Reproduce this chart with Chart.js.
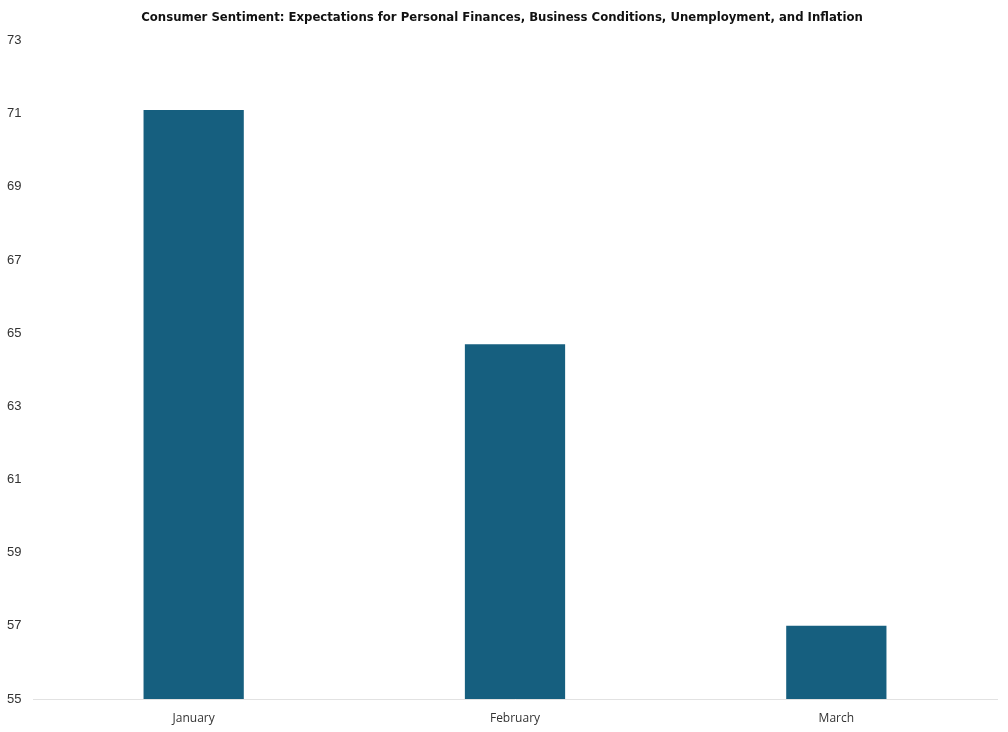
<!DOCTYPE html>
<html>
<head>
<meta charset="utf-8">
<script src="https://cdn.jsdelivr.net/npm/chart.js@4/dist/chart.umd.min.js"></script>
<style>
  html, body { margin: 0; padding: 0; background: #ffffff; }
  canvas { display: block; }
</style>
</head>
<body>
<canvas id="c" width="1008" height="732"></canvas>
<script>
const categories = ["January", "February", "March"];
const sentimentValues = [71.1, 64.7, 57.0];
const yTicks = [55, 57, 59, 61, 63, 65, 67, 69, 71, 73];
const chartTitle = "Consumer Sentiment: Expectations for Personal Finances, Business Conditions, Unemployment, and Inflation";

new Chart(document.getElementById("c"), {
  type: "bar",
  data: {
    labels: categories,
    datasets: [{
      data: sentimentValues,
      backgroundColor: "#165f7f",
      borderWidth: 0,
      categoryPercentage: 1.0,
      barPercentage: 0.312
    }]
  },
  options: {
    responsive: false,
    animation: false,
    layout: { padding: { left: 7, right: 11, top: 0, bottom: 0 } },
    plugins: {
      legend: { display: false },
      tooltip: { enabled: false },
      title: {
        display: true,
        text: chartTitle,
        color: "#111111",
        font: { family: "'Liberation Sans Narrow', 'DejaVu Sans Condensed', 'Roboto Condensed', sans-serif", size: 13, weight: "bold" },
        padding: { top: 10, bottom: 15 }
      }
    },
    scales: {
      x: {
        grid: { display: false, drawTicks: false },
        border: { display: true, color: "#e2e2e2", width: 1 },
        ticks: {
          color: "#333333",
          font: { family: "'Open Sans', 'Noto Sans', sans-serif", size: 12 },
          padding: 12
        },
        afterFit: (s) => { s.height = 33; }
      },
      y: {
        min: 55,
        max: 73,
        afterBuildTicks: (s) => { s.ticks = yTicks.map(v => ({ value: v })); },
        grid: { display: false, drawTicks: false },
        border: { display: false },
        ticks: {
          color: "#333333",
          crossAlign: "far",
          padding: 0,
          font: { family: "'Liberation Sans', Arial, sans-serif", size: 13 }
        },
        afterFit: (s) => { s.width = 26; }
      }
    }
  }
});
</script>
</body>
</html>
